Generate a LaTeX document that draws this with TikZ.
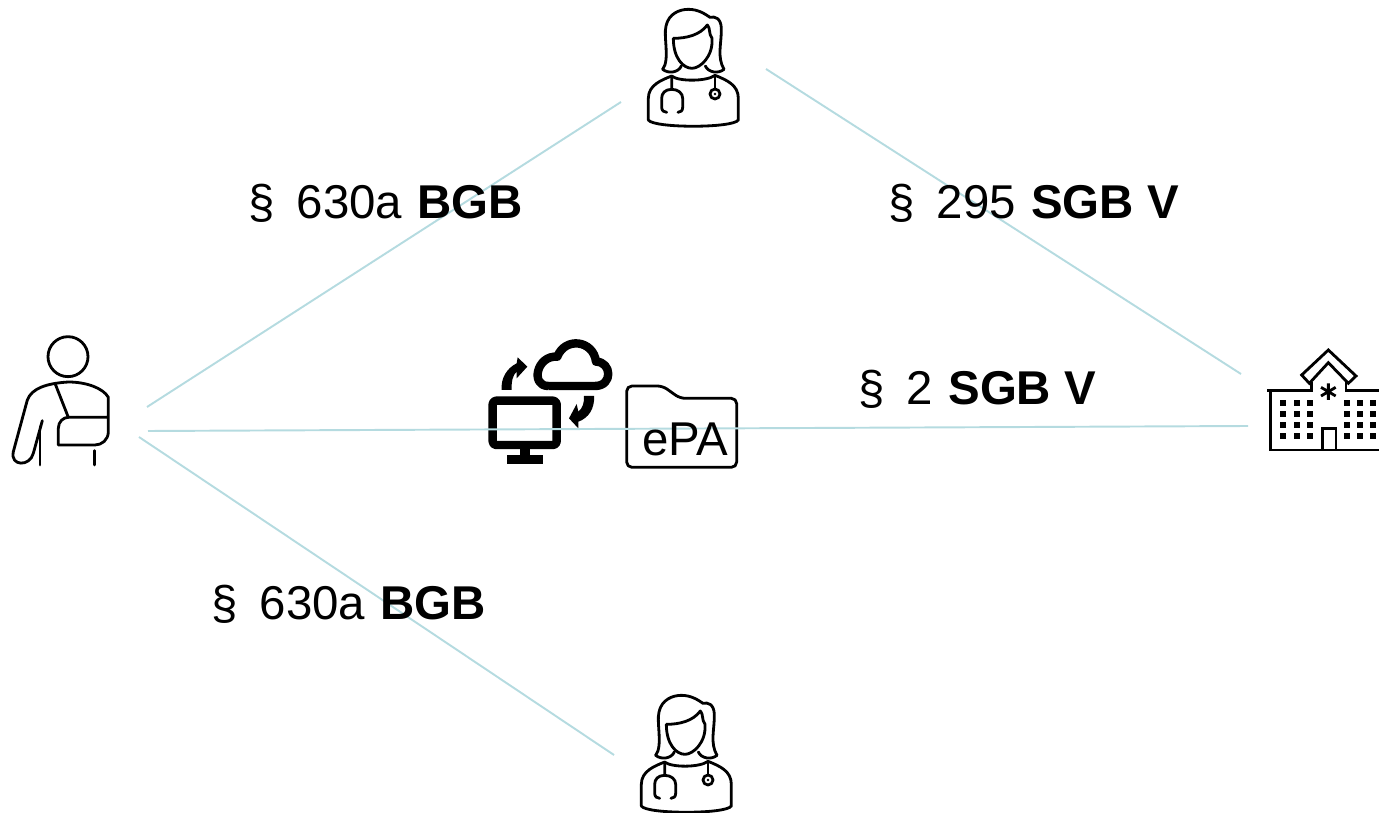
\documentclass[tikz,border=0pt]{standalone}
\usepackage{fontspec}
\setmainfont{Liberation Sans}
\definecolor{linkteal}{HTML}{B5DBE0}
\newcommand{\paragap}{§\hspace{12.6pt}}
\newcommand{\wordgap}{\hspace{8.6pt}}
\tikzset{
  doctor/.pic={
    \draw[icon] (128,208) .. controls (150,180) and (130,110) .. (138,78) .. controls (146,40) and (180,28) .. (205,28) .. controls (235,28) and (255,42) .. (270,52) .. controls (285,48) and (303,55) .. (304,85) .. controls (305,130) and (290,170) .. (312,208) .. controls (295,222) and (265,218) .. (256,198);
    \draw[icon] (128,208) .. controls (145,222) and (175,218) .. (184,198);
    \draw[icon] (160,115) .. controls (200,115) and (240,105) .. (262,75) .. controls (272,85) and (265,100) .. (276,115) .. controls (280,170) and (240,205) .. (216,205) .. controls (190,205) and (160,175) .. (160,115);
    \draw[icon] (155,228) .. controls (175,245) and (260,245) .. (285,226) .. controls (320,240) and (355,255) .. (355,295) -- (355,360) .. controls (340,385) and (100,385) .. (85,360) -- (85,295) .. controls (85,255) and (125,240) .. (155,228);
    \draw[icon] (155,232) -- (155,268) .. controls (135,268) and (125,280) .. (125,295) -- (125,322) .. controls (125,332) and (132,337) .. (140,337);
    \draw[icon] (155,268) .. controls (175,268) and (188,280) .. (188,295) -- (188,322) .. controls (188,332) and (182,337) .. (174,337);
    \draw[icon] (285,228) -- (285,266);
    \draw[icon] (285,282) circle (15);
    \fill (285,282) circle (4);
  }
}
\begin{document}
\begin{tikzpicture}[x=0.02cm,y=-0.02cm]
\tikzstyle{icon}=[black,line width=1.6pt,line cap=round,line join=round]
\tikzstyle{heavy}=[black,line width=4.8pt,line join=round]
\tikzstyle{link}=[linkteal,line width=1.1pt]
\tikzstyle{law}=[black,font=\fontsize{27}{31}\selectfont,anchor=base west,inner sep=0pt]
\useasboundingbox (0,0) rectangle (1379,813);

% patient
\begin{scope}[shift={(0,320)},scale=1/3]
\draw[icon] (204,110) circle (60);
\draw[icon] (127,302) -- (100,400) .. controls (90,440) and (30,440) .. (40,395) -- (82,240) .. controls (95,205) and (140,190) .. (205,186) .. controls (260,186) and (310,205) .. (325,232) -- (325,335) .. controls (325,360) and (305,375) .. (285,375) -- (175,375) -- (175,325) .. controls (175,305) and (190,292) .. (205,292) -- (325,292);
\draw[icon] (165,190) -- (205,292);
\draw[icon] (120,320) -- (120,435);
\draw[icon] (284,392) -- (284,435);
\end{scope}

% doctors
\pic[scale=1/3] (docTop) at (620,0) {doctor};
\pic[scale=1/3] (docBottom) at (613,686) {doctor};

% computer and cloud
\begin{scope}[shift={(470,330)},scale=1/3]
\draw[heavy,rounded corners=2pt] (68,212) rectangle (260,345);
\fill (150,350) rectangle (180,380);
\fill (110,375) rectangle (220,403);
\draw[heavy] (235,168) -- (375,168) .. controls (430,168) and (425,95) .. (378,95) .. controls (370,30) and (285,20) .. (262,80) .. controls (200,75) and (180,168) .. (235,168);
\fill (95,180) .. controls (92,145) and (110,115) .. (140,100) -- (143,82) -- (172,110) -- (140,145) -- (140,125) .. controls (128,135) and (124,155) .. (125,180) -- cycle;
\fill (372,198) .. controls (375,235) and (355,265) .. (325,275) -- (325,295) -- (297,265) -- (320,222) -- (325,245) .. controls (338,235) and (343,218) .. (342,198) -- cycle;
\end{scope}

% folder
\draw[icon,rounded corners=3pt,shift={(470,330)},scale=1/3] (470,168) -- (578,168) -- (630,205) -- (800,205) -- (800,412) -- (470,412) -- cycle;

% hospital
\begin{scope}[shift={(1250,340)},scale=1/3]
\draw[icon,line cap=butt,line join=miter] (235,30) -- (318,108) -- (295,130) -- (235,68) -- (178,130) -- (155,105) -- cycle;
\draw[icon,line cap=butt,line join=miter] (185,125) -- (185,152) -- (52,152);
\draw[icon,line cap=butt,line join=miter] (288,125) -- (288,152) -- (387,152);
\draw[icon,line cap=butt,line join=miter] (62,152) -- (62,330) -- (387,330);
\draw[icon,line cap=butt,line join=miter] (218,330) -- (218,265) -- (258,265) -- (258,330);
\draw[icon,line cap=butt] (235,130) -- (235,180) (213,142) -- (257,168) (213,168) -- (257,142);
\foreach \wx in {100,140,180,290,330,370}
  \foreach \wy in {190,223,255,287}
    \fill (\wx-9,\wy-9) rectangle (\wx+9,\wy+9);
\end{scope}

\coordinate (patientUp) at (147,407);
\coordinate (patientMid) at (148,431);
\coordinate (patientDown) at (139,437);
\coordinate (docTopLeft) at (621,102);
\coordinate (docTopRight) at (766,69);
\coordinate (docBottomLeft) at (614,755);
\coordinate (hospitalUp) at (1241,374);
\coordinate (hospitalMid) at (1248,426);

\draw[link] (patientUp) -- (docTopLeft);
\draw[link] (docTopRight) -- (hospitalUp);
\draw[link] (patientMid) -- (hospitalMid);
\draw[link] (patientDown) -- (docBottomLeft);

\node[law] (lawTop) at (248,219) {\paragap 630a\wordgap\textbf{BGB}};
\node[law] (lawRight) at (888,219) {\paragap 295\wordgap\textbf{SGB V}};
\node[law] (lawMid) at (858,405) {\paragap 2\wordgap\textbf{SGB V}};
\node[law] (lawBottom) at (211,620) {\paragap 630a\wordgap\textbf{BGB}};
\node[law] (epa) at (642,456) {ePA};
\end{tikzpicture}
\end{document}
